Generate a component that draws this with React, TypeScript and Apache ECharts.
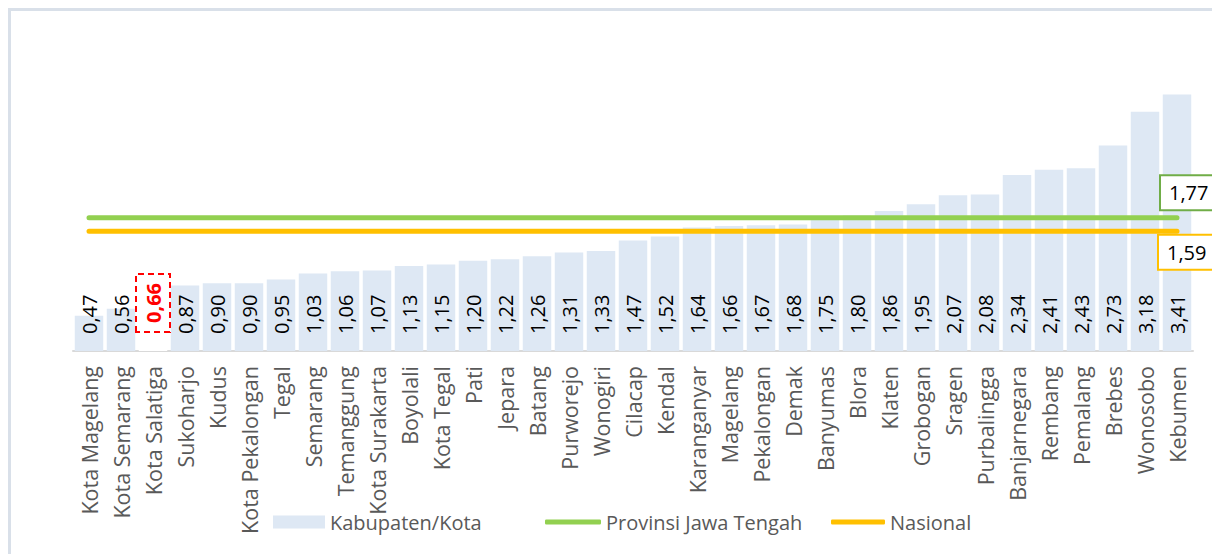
import React, { useEffect, useRef } from "react";
import * as echarts from "echarts";

const categories = [
  "Kota Magelang", "Kota Semarang", "Kota Salatiga", "Sukoharjo", "Kudus",
  "Kota Pekalongan", "Tegal", "Semarang", "Temanggung", "Kota Surakarta",
  "Boyolali", "Kota Tegal", "Pati", "Jepara", "Batang", "Purworejo",
  "Wonogiri", "Cilacap", "Kendal", "Karanganyar", "Magelang", "Pekalongan",
  "Demak", "Banyumas", "Blora", "Klaten", "Grobogan", "Sragen",
  "Purbalingga", "Banjarnegara", "Rembang", "Pemalang", "Brebes",
  "Wonosobo", "Kebumen",
];

const values = [
  0.47, 0.56, 0.66, 0.87, 0.9, 0.9, 0.95, 1.03, 1.06, 1.07, 1.13, 1.15,
  1.2, 1.22, 1.26, 1.31, 1.33, 1.47, 1.52, 1.64, 1.66, 1.67, 1.68, 1.75,
  1.8, 1.86, 1.95, 2.07, 2.08, 2.34, 2.41, 2.43, 2.73, 3.18, 3.41,
];

const highlighted = "Kota Salatiga";
const provinsiValue = 1.77;
const nasionalValue = 1.59;

const seriesNames = ["Kabupaten/Kota", "Provinsi Jawa Tengah", "Nasional"];

const fmt = (v: number) => v.toFixed(2).replace(".", ",");

export default function App() {
  const ref = useRef<HTMLDivElement>(null);

  useEffect(() => {
    if (!ref.current) return;
    const chart = echarts.init(ref.current, null, { renderer: "svg" });
    const font = "'Open Sans', sans-serif";

    const barData = values.map((v, i) =>
      categories[i] === highlighted
        ? {
            value: v,
            itemStyle: { color: "#ffffff" },
            label: {
              color: "#ff0000",
              fontWeight: "bold",
              borderColor: "#ff0000",
              borderWidth: 2,
              borderType: [6, 4],
              padding: [7, 9, 7, 9],
              distance: 19,
            },
          }
        : v
    );

    const legendCommon = {
      top: 507,
      textStyle: { color: "#595959", fontSize: 20, fontFamily: font },
      selectedMode: false,
    };

    chart.setOption({
      animation: false,
      backgroundColor: "#ffffff",
      graphic: [
        {
          type: "rect",
          shape: { x: 9.5, y: 9.5, width: 1230, height: 570 },
          style: { fill: "none", stroke: "#d9e0e9", lineWidth: 3 },
          silent: true,
        },
      ],
      grid: { left: 73, right: 19, top: 50, bottom: 203 },
      legend: [
        {
          ...legendCommon,
          left: 268,
          data: [{ name: seriesNames[0], icon: "rect" }],
          itemWidth: 52,
          itemHeight: 13,
        },
        {
          ...legendCommon,
          left: 540,
          data: [{ name: seriesNames[1], icon: "roundRect" }],
          itemWidth: 56,
          itemHeight: 5,
        },
        {
          ...legendCommon,
          left: 826,
          data: [{ name: seriesNames[2], icon: "roundRect" }],
          itemWidth: 54,
          itemHeight: 5,
        },
      ],
      xAxis: {
        type: "category",
        data: categories,
        axisLine: { lineStyle: { color: "#d9d9d9", width: 2 } },
        axisTick: { show: false },
        axisLabel: {
          interval: 0,
          rotate: 90,
          margin: 15,
          color: "#595959",
          fontSize: 21.5,
          fontFamily: font,
        },
      },
      yAxis: {
        type: "value",
        min: 0,
        max: 4,
        show: false,
        splitLine: { show: false },
      },
      series: [
        {
          name: seriesNames[0],
          type: "bar",
          data: barData,
          barCategoryGap: "11%",
          itemStyle: { color: "#dee8f4" },
          label: {
            show: true,
            position: "insideBottom",
            distance: 17,
            rotate: 90,
            align: "left",
            verticalAlign: "middle",
            color: "#000000",
            fontSize: 20,
            fontFamily: font,
            formatter: (p: any) => fmt(Number(p.value)),
          },
          z: 1,
        },
        {
          name: seriesNames[1],
          type: "line",
          data: categories.map(() => provinsiValue),
          symbol: "none",
          lineStyle: { color: "#92d050", width: 5, cap: "round" },
          itemStyle: { color: "#92d050" },
          endLabel: {
            show: true,
            formatter: (p: any) => fmt(Number(p.value)),
            offset: [-24, -25],
            color: "#000000",
            fontSize: 20,
            fontFamily: font,
            backgroundColor: "#ffffff",
            borderColor: "#70ad47",
            borderWidth: 2,
            padding: [7, 10, 6, 8],
          },
          z: 3,
        },
        {
          name: seriesNames[2],
          type: "line",
          data: categories.map(() => nasionalValue),
          symbol: "none",
          lineStyle: { color: "#ffc000", width: 5, cap: "round" },
          itemStyle: { color: "#ffc000" },
          endLabel: {
            show: true,
            formatter: (p: any) => fmt(Number(p.value)),
            offset: [-26, 21],
            color: "#000000",
            fontSize: 20,
            fontFamily: font,
            backgroundColor: "#ffffff",
            borderColor: "#ffc000",
            borderWidth: 2,
            padding: [7, 10, 6, 8],
          },
          z: 3,
        },
      ],
    });

    return () => chart.dispose();
  }, []);

  return (
    <div
      ref={ref}
      style={{ position: "fixed", left: 0, top: 0, width: 1212, height: 554 }}
    />
  );
}
